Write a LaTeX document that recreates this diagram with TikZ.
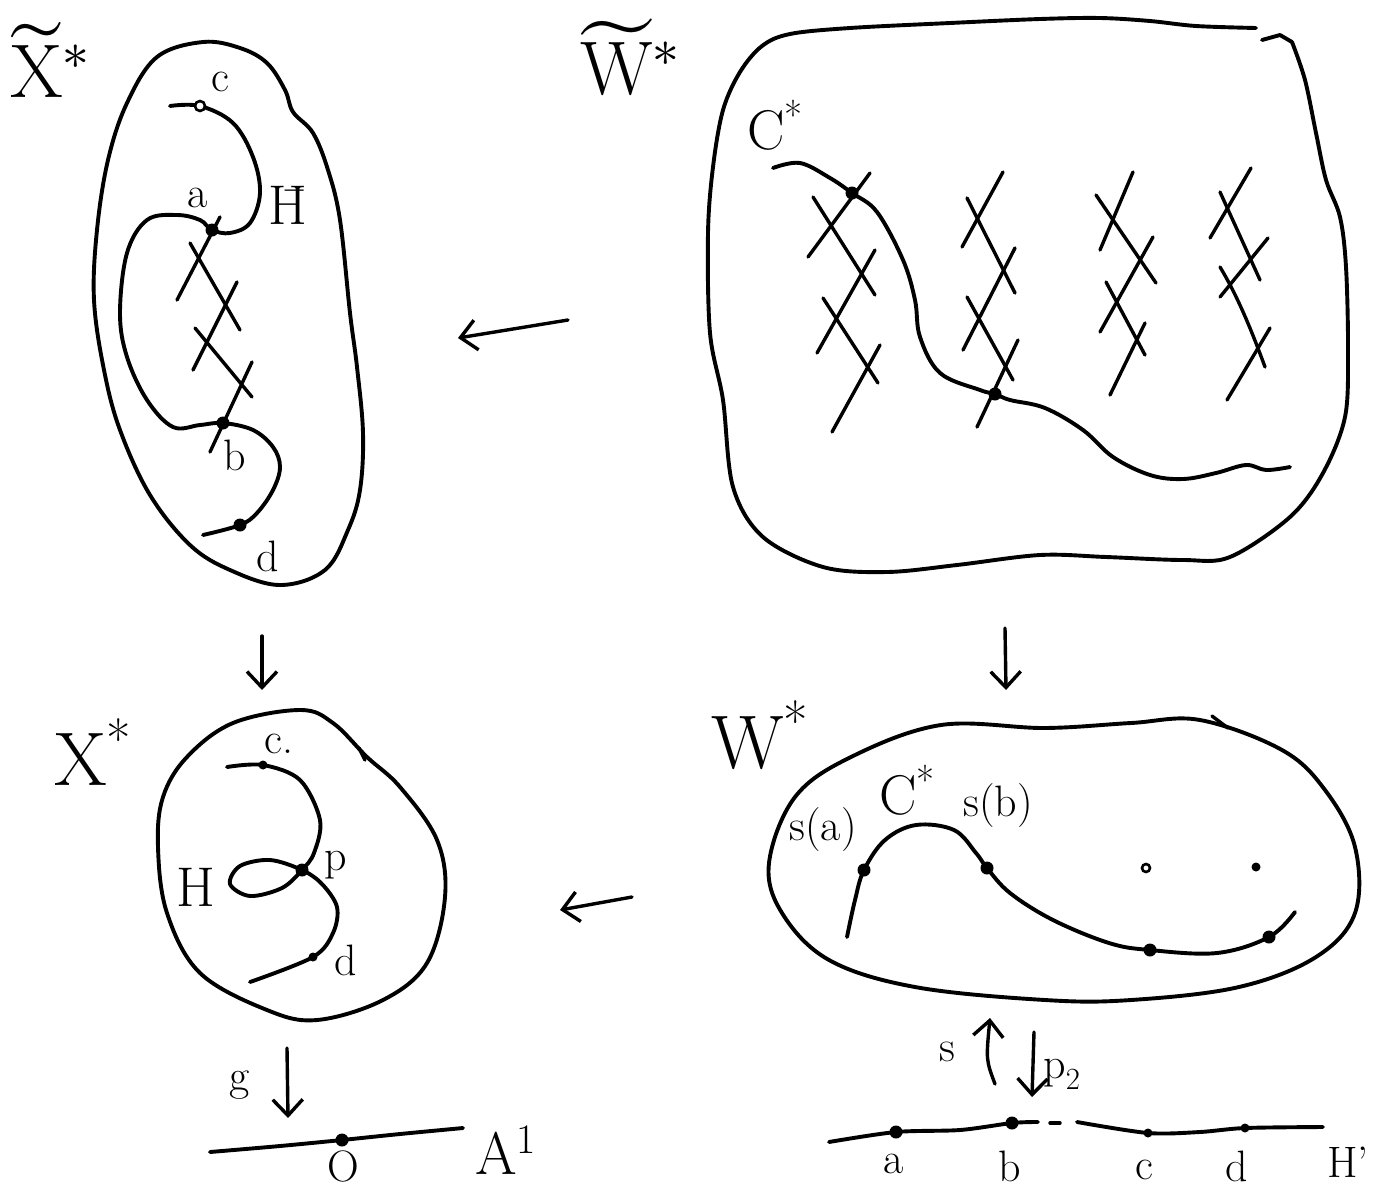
\documentclass[tikz,border=0pt]{standalone}
\usepackage{fontspec}
\usepackage{unicode-math}
\usetikzlibrary{arrows.meta}
\begin{document}
\begin{tikzpicture}[x=1pt,y=-1pt,
  ln/.style={line width=3.9pt, line cap=round, line join=round},
  xl/.style={line width=3.4pt, line cap=round},
  dot/.style={circle, fill=black, inner sep=0pt, minimum size=13pt},
  sdot/.style={circle, fill=black, inner sep=0pt, minimum size=9pt},
  odot/.style={circle, draw, line width=2.6pt, fill=white, inner sep=0pt, minimum size=10pt},
  lbl/.style={font=\fontsize{44}{48}\selectfont, inner sep=0pt},
  mlbl/.style={font=\fontsize{56}{60}\selectfont, inner sep=0pt},
  big/.style={font=\fontsize{76}{80}\selectfont, inner sep=0pt},
  arr/.style={line width=3.4pt, line cap=round, -{Straight Barb[length=16pt, width=30pt, line width=3.4pt]}},
]
\useasboundingbox (0,0) rectangle (1373,1192);

% ---------- top left: X~* ----------
\node[big, anchor=base west] (lXt) at (10,97) {$\widetilde{\mathrm{X}}^{*}$};
\draw[ln] plot[smooth cycle, tension=0.6] coordinates {(203,42) (240,48) (267,63) (285,90) (293,112) (313,133) (328,170) (340,220) (350,313) (357,367) (363,433) (360,490) (348,530) (325,570) (280,585) (230,570) (190,545) (150,495) (120,430) (104,370) (94,300) (97,230) (108,160) (127,103) (157,57)};
\draw[ln] plot[smooth, tension=0.6] coordinates {(170,106) (200,106) (233,123) (253,157) (260,193) (250,223) (230,233) (212,230) (200,220) (177,215) (147,220) (127,253) (120,313) (127,357) (147,400) (173,427) (200,425) (223,423) (253,430) (273,447) (280,467) (273,490) (257,513) (240,525) (203,535)};
\draw[xl] (220,217) -- (177,300);
\draw[xl] (190,243) -- (240,330);
\draw[xl] (237,282) -- (193,370);
\draw[xl] (195,328) -- (252,397);
\draw[xl] (252,362) -- (210,452);
\node[odot] (tc) at (200,106) {};
\node[dot] (ta) at (212,230) {};
\node[dot] (tb) at (223,423) {};
\node[dot] (td) at (240,525) {};
\node[lbl] (ltc) at (220,82) {c};
\node[lbl] (lta) at (198,198) {a};
\node[mlbl] (ltH) at (288,205) {\={H}};
\node[lbl] (ltb) at (235,455) {b};
\node[lbl] (ltd) at (268,556) {d};

% ---------- top right: W~* ----------
\node[big, anchor=base west] (lWt) at (580,94) {$\widetilde{\mathrm{W}}^{*}$};
\draw[ln] plot[smooth, tension=0.55] coordinates {(1256,28) (1196,26) (1150,21) (1100,18) (1040,19) (950,23) (850,28) (790,34) (762,46) (740,72) (723,110) (713,167) (708,233) (710,333) (723,400) (733,487) (763,537) (823,567) (887,572) (957,565) (1040,555) (1106,557) (1183,560) (1230,557) (1290,517) (1323,473) (1345,417) (1348,350) (1346,267) (1340,217) (1326,180) (1316,133) (1305,80) (1292,42)};
\draw[ln] (1292,42) -- (1280,35) -- (1262,40);
\draw[ln] plot[smooth, tension=0.6] coordinates {(773,168) (800,163) (830,178) (852,193) (877,212) (903,260) (915,300) (920,337) (940,373) (980,390) (995,394) (1010,400) (1045,408) (1083,430) (1113,457) (1150,475) (1183,479) (1216,473) (1246,465) (1266,470) (1290,467)};
\node[dot] (wc1) at (852,193) {};
\node[dot] (wc2) at (995,394) {};
\node[mlbl] (lCt) at (775,125) {C\textsuperscript{*}};
% column 1
\draw[xl] (870,173) -- (808,257);
\draw[xl] (813,197) -- (875,295);
\draw[xl] (875,250) -- (817,353);
\draw[xl] (823,298) -- (878,383);
\draw[xl] (880,345) -- (832,432);
% column 2
\draw[xl] (1003,172) -- (962,247);
\draw[xl] (967,198) -- (1015,293);
\draw[xl] (1015,248) -- (963,350);
\draw[xl] (967,297) -- (1013,380);
\draw[xl] (1018,340) -- (977,427);
% column 3
\draw[xl] (1133,172) -- (1100,250);
\draw[xl] (1096,195) -- (1156,283);
\draw[xl] (1153,237) -- (1100,332);
\draw[xl] (1106,282) -- (1145,355);
\draw[xl] (1145,323) -- (1110,395);
% column 4
\draw[xl] (1251,168) -- (1210,238);
\draw[xl] (1220,192) -- (1260,280);
\draw[xl] (1268,238) -- (1220,297);
\draw[xl] (1220,267) .. controls (1240,300) and (1255,340) .. (1265,367);
\draw[xl] (1270,328) -- (1227,400);

% ---------- arrows between rows ----------
\coordinate (a1s) at (568,320);
\coordinate (a1e) at (458,338);
\draw[arr] (a1s) -- (a1e);
\coordinate (a2s) at (262,636);
\coordinate (a2e) at (262,690);
\draw[arr] (a2s) -- (a2e);
\coordinate (a3s) at (1005,628);
\coordinate (a3e) at (1006,690);
\draw[arr] (a3s) -- (a3e);
\coordinate (a4s) at (632,897);
\coordinate (a4e) at (560,910);
\draw[arr] (a4s) -- (a4e);

% ---------- bottom left: X* ----------
\node[big] (lX) at (93,752) {X\textsuperscript{*}};
\draw[ln] plot[smooth cycle, tension=0.6] coordinates {(300,710) (333,723) (367,757) (400,787) (437,840) (445,897) (427,963) (383,1000) (317,1020) (267,1010) (200,973) (167,913) (158,847) (163,797) (187,757) (233,723)};
\draw[xl] (359,748) -- (365,760);
\draw[ln] plot[smooth, tension=0.55] coordinates {(227,767) (263,765) (300,780) (320,820) (314,853) (302,870) (282,888) (250,896) (230,884) (240,866) (270,860) (302,870) (322,884) (337,907) (333,933) (313,957) (250,982)};
\node[sdot] (bc) at (263,765) {};
\node[dot] (bp) at (302,870) {};
\node[sdot] (bd) at (313,957) {};
\node[lbl] (lbc) at (279,744) {c.};
\node[lbl] (lbp) at (336,865) {p};
\node[mlbl] (lbH) at (196,887) {H};
\node[lbl] (lbd) at (346,960) {d};
% g arrow and A^1
\node[lbl] (lg) at (240,1085) {g};
\coordinate (a5s) at (287,1048);
\coordinate (a5e) at (288,1118);
\draw[arr] (a5s) -- (a5e);
\draw[ln] plot[smooth, tension=0.5] coordinates {(210,1152) (280,1146) (342,1140) (400,1134) (463,1128)};
\node[dot] (bO) at (342,1140) {};
\node[lbl] (lO) at (343,1166) {O};
\node[font=\fontsize{60}{64}\selectfont, inner sep=0pt] (lA) at (506,1150) {A\textsuperscript{1}};

% ---------- bottom right: W* ----------
\node[big] (lW) at (760,735) {W\textsuperscript{*}};
\draw[ln] plot[smooth cycle, tension=0.6] coordinates {(941,725) (1045,728) (1131,723) (1200,720) (1282,750) (1325,790) (1355,847) (1355,913) (1316,957) (1239,987) (1131,1000) (1045,1000) (915,987) (829,960) (782,913) (769,863) (795,797) (851,757)};
\draw[xl] (1212,716) -- (1228,728);
\draw[ln] plot[smooth, tension=0.6] coordinates {(847,937) (855,900) (864,870) (885,840) (916,825) (954,830) (976,853) (987,868) (1010,893) (1053,920) (1109,943) (1150,950) (1217,953) (1269,937) (1295,912)};
\node[dot] (wsa) at (864,870) {};
\node[dot] (wsb) at (987,868) {};
\node[dot] (wq1) at (1150,950) {};
\node[dot] (wq2) at (1269,937) {};
\node[odot, minimum size=8pt] (wo1) at (1146,868) {};
\node[sdot] (wo2) at (1256,867) {};
\node[lbl] (lsa) at (823,830) {s(a)};
\node[mlbl] (lCb) at (907,790) {C\textsuperscript{*}};
\node[lbl] (lsb) at (998,806) {s(b)};
% s and p2 arrows
\node[lbl] (ls) at (947,1052) {s};
\coordinate (a6s) at (995,1084);
\coordinate (a6e) at (990,1018);
\draw[arr] (a6s) .. controls (986,1060) .. (a6e);
\coordinate (a7s) at (1034,1032);
\coordinate (a7e) at (1032,1097);
\draw[arr] (a7s) -- (a7e);
\node[lbl] (lp2) at (1062,1074) {p\textsubscript{2}};
% H' line
\draw[ln] plot[smooth, tension=0.5] coordinates {(829,1142) (896,1132) (960,1130) (1012,1123) (1038,1122)};
\draw[xl] (1050,1123) -- (1060,1123);
\draw[ln] plot[smooth, tension=0.5] coordinates {(1077,1122) (1148,1133) (1200,1132) (1245,1128) (1323,1127)};
\node[dot] (ha) at (896,1132) {};
\node[dot] (hb) at (1012,1123) {};
\node[sdot] (hc) at (1148,1133) {};
\node[sdot] (hd) at (1245,1128) {};
\node[lbl] (lha) at (894,1164) {a};
\node[lbl] (lhb) at (1010,1166) {b};
\node[lbl] (lhc) at (1144,1170) {c};
\node[lbl] (lhd) at (1237,1166) {d};
\node[lbl] (lhH) at (1348,1162) {H'};
\end{tikzpicture}
\end{document}
